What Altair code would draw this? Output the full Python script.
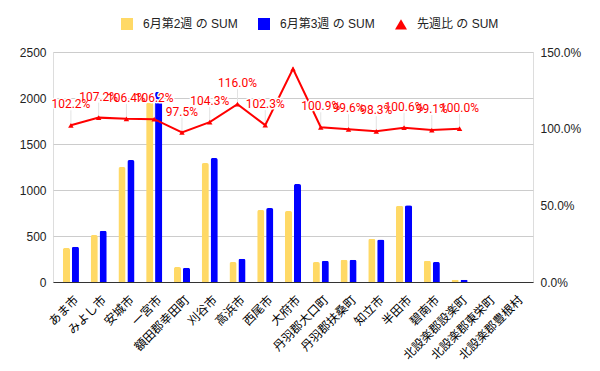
import altair as alt
import pandas as pd

categories = ["あま市", "みよし市", "安城市", "一宮市", "額田郡幸田町", "刈谷市", "高浜市",
              "西尾市", "大府市", "丹羽郡大口町", "丹羽郡扶桑町", "知立市", "半田市", "碧南市",
              "北設楽郡設楽町", "北設楽郡東栄町", "北設楽郡豊根村"]
week2 = [370, 511, 1250, 1950, 163, 1293, 217, 783, 772, 217, 243, 471, 830, 232, 25, None, None]
week3 = [384, 558, 1326, 2066, 155, 1348, 253, 804, 1065, 232, 243, 463, 835, 218, 25, None, None]
ratio = [1.022, 1.072, 1.064, 1.062, 0.975, 1.043, 1.160, 1.023, 1.390, 1.009, 0.996,
         0.983, 1.006, 0.991, 1.000, None, None]
labels = ["102.2%", "107.2%", "106.4%", "106.2%", "97.5%", "104.3%", "116.0%", "102.3%", "",
          "100.9%", "99.6%", "98.3%", "100.6%", "99.1%", "100.0%", "", ""]
series_names = ["6月第2週 の SUM", "6月第3週 の SUM", "先週比 の SUM"]
series_colors = ["#ffd966", "#0000ff", "#ff0000"]
series_shapes = ["square", "square", "triangle-up"]

bars_df = pd.DataFrame(
    [{"category": c, "series": series_names[0], "value": v} for c, v in zip(categories, week2)]
    + [{"category": c, "series": series_names[1], "value": v} for c, v in zip(categories, week3)]
)
line_df = pd.DataFrame({"category": categories, "ratio": ratio, "label": labels,
                        "series": series_names[2]})

FONT = "Liberation Sans, Noto Sans CJK JP"
RED = "#ff0000"

legend = alt.Legend(title=None, orient="none", direction="horizontal",
                    legendX=67, legendY=-35, columnPadding=17, labelOffset=9,
                    symbolSize=144, symbolOpacity=1, labelFontSize=12,
                    labelFont=FONT, labelColor="#222222")
color = alt.Color("series:N", scale=alt.Scale(domain=series_names, range=series_colors),
                  legend=legend)
shape = alt.Shape("series:N", scale=alt.Scale(domain=series_names, range=series_shapes),
                  legend=legend)

xaxis = alt.Axis(labelAngle=-45, ticks=False, domain=True, domainColor="#333333",
                 labelFontSize=12, labelFont=FONT, labelColor="#000000",
                 labelPadding=12, labelOffset=2, grid=False)
xscale = alt.Scale(domain=categories, paddingInner=0.42, paddingOuter=0.355)


def xenc():
    return alt.X("category:N", scale=xscale, sort=categories, title=None, axis=xaxis)


raxis = alt.Axis(orient="right", values=[0, 0.5, 1, 1.5], format=".1%", ticks=False,
                 domain=False, grid=False, labelPadding=7, labelFontSize=12,
                 labelFont=FONT, labelColor="#222222")
yr = alt.Scale(domain=[0, 1.5], nice=False)


def yenc():
    return alt.Y("ratio:Q", scale=yr, title=None, axis=raxis)


bars = alt.Chart(bars_df).mark_bar(cornerRadiusTopLeft=2, cornerRadiusTopRight=2).encode(
    x=xenc(),
    xOffset=alt.XOffset("series:N", scale=alt.Scale(domain=series_names[:2], paddingInner=0.2)),
    y=alt.Y("value:Q", scale=alt.Scale(domain=[0, 2500], nice=False), title=None,
            axis=alt.Axis(values=[0, 500, 1000, 1500, 2000, 2500], format="d", ticks=False,
                          domain=False, labelPadding=7, gridColor="#cccccc",
                          labelFontSize=12, labelFont=FONT, labelColor="#222222")),
    color=color,
)

base = alt.Chart(line_df)

leaders = base.transform_filter("datum.label != ''").mark_rule(
    color="#e3e3e3", strokeWidth=1, yOffset=-2, y2Offset=-15).encode(
    x=xenc(), y=yenc(), y2="ratio:Q")

line = base.mark_line(color=RED, strokeWidth=2).encode(x=xenc(), y=yenc())
points = base.mark_point(filled=True, size=30, opacity=1).encode(
    x=xenc(), y=yenc(), color=color, shape=shape)

halo = base.mark_text(font="Roboto", fontSize=12, dy=-21, color="white", stroke="white",
                      strokeWidth=3, strokeJoin="round").encode(
    x=xenc(), y=yenc(), text="label:N")
text = base.mark_text(font="Roboto", fontSize=12, dy=-21, color=RED).encode(
    x=xenc(), y=yenc(), text="label:N")

right = alt.layer(leaders, line, points, halo, text)

chart = alt.layer(bars, right).resolve_scale(y="independent").properties(
    width=480, height=230,
    autosize=alt.AutoSizeParams(type="none"),
    padding={"left": 45, "top": 44, "right": 59, "bottom": 81},
).configure_view(stroke=None).configure(background="white")

chart.save("out.html", embed_options={"renderer": "svg", "actions": False})
